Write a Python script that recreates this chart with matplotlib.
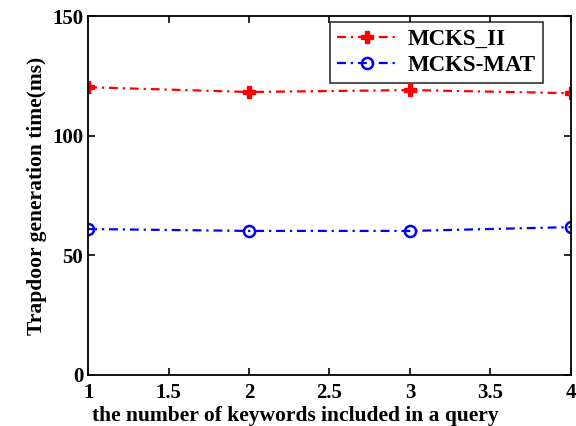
import matplotlib
matplotlib.use("Agg")
import matplotlib.pyplot as plt

plt.rcParams["font.family"] = ["Liberation Serif", "DejaVu Serif"]
plt.rcParams["font.weight"] = "bold"

keywords = [1, 2, 3, 4]
mcks_ii = [120.3, 118.3, 119.1, 117.8]
mcks_mat = [61.0, 60.2, 60.2, 61.8]

fig = plt.figure(figsize=(5.76, 4.26), dpi=100)
ax = fig.add_axes([0.153, 0.120, 0.838, 0.842])

dashdot = (0, (4, 2.2, 1, 2.2))
ax.plot(keywords, mcks_ii, color="red", linestyle=dashdot, linewidth=1.6,
        marker="P", markersize=8, label="MCKS_II")
ax.plot(keywords, mcks_mat, color="blue", linestyle=dashdot, linewidth=1.6,
        marker="o", markersize=8, markerfacecolor="none", markeredgewidth=1.8,
        label="MCKS-MAT")

ax.set_xlim(1, 4)
ax.set_ylim(0, 150)
ax.set_xticks([1, 1.5, 2, 2.5, 3, 3.5, 4])
ax.set_xticklabels(["1", "1.5", "2", "2.5", "3", "3.5", "4"])
ax.set_yticks([0, 50, 100, 150])
ax.tick_params(direction="in", top=True, right=True, labelsize=15, length=5,
               width=1.2)
ax.tick_params(axis="x", pad=6)
for lbl in ax.get_xticklabels() + ax.get_yticklabels():
    lbl.set_fontweight("bold")
for sp in ax.spines.values():
    sp.set_linewidth(1.3)

ax.set_xlabel("the number of keywords included in a query", fontsize=15.5,
              fontweight="bold")
ax.xaxis.set_label_coords(0.43, -0.088)
ax.set_ylabel("Trapdoor generation time(ms)", fontsize=15.5,
              fontweight="bold", labelpad=4)

leg = ax.legend(loc="upper right", bbox_to_anchor=(0.942, 0.983),
                frameon=True, fancybox=False, edgecolor="black",
                handlelength=2.6, borderaxespad=0, borderpad=0.3,
                labelspacing=0.2, handletextpad=0.5,
                prop={"weight": "bold", "size": 16.5})
leg.get_frame().set_linewidth(1.2)

fig.savefig("out.png", dpi=100)
